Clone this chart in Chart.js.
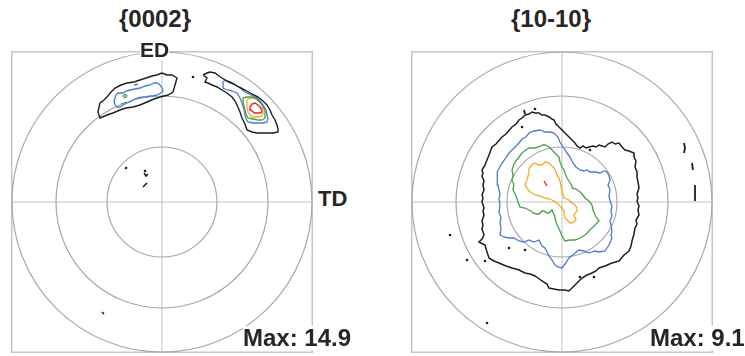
<!DOCTYPE html>
<html>
<head>
<meta charset="utf-8">
<script src="https://cdn.jsdelivr.net/npm/chart.js@4.4.1/dist/chart.umd.min.js"></script>
<style>
  body { margin: 0; background: #fff; width: 745px; height: 356px; position: relative; overflow: hidden;
         font-family: "Liberation Sans", Arial, sans-serif; }
  canvas { position: absolute; top: 51px; }
  .lbl { position: absolute; font-weight: bold; color: #262626; line-height: 1; white-space: nowrap; }
  .bg { background: #fff; }
</style>
</head>
<body>
<canvas id="fig0002" width="302" height="302" style="left:11px"></canvas>
<canvas id="fig1010" width="302" height="302" style="left:411px"></canvas>

<div class="lbl" style="left:95px;width:120px;text-align:center;top:7px;font-size:24px">{0002}</div>
<div class="lbl" style="left:491px;width:120px;text-align:center;top:7px;font-size:24px">{10-10}</div>
<div class="lbl bg" style="left:140px;top:39px;font-size:21px">ED</div>
<div class="lbl bg" style="left:318px;top:188px;font-size:22px">TD</div>
<div class="lbl bg" style="left:243px;top:326px;font-size:24px">Max: 14.9</div>
<div class="lbl bg" style="left:650px;top:326px;font-size:24px">Max: 9.1</div>

<script>
// ============================================
// データ（投影座標：外周円の半径 = 150、y は上向き）
// ============================================
const axisRange = [-151, 151];
const gridRadii = [55, 106, 150]; // 30°・60°・90° の等面積投影リング

// ---- {0002} ----
const c0002BlackA = [[0,129],[5,127],[10,127],[15,124],[13,117],[11,110],[6,107],[-2,105],[-8,103],[-15,100],[-22,97],
  [-29,95],[-36,94],[-42,92],[-49,89],[-55,87],[-62,84],[-64,90],[-63,95],[-62,99],[-58,102],[-55,105],[-51,110],
  [-47,114],[-41,117],[-35,119],[-28,120],[-22,122],[-16,124],[-10,126],[-5,127],[0,129]];
const c0002BlueA = [[-39,109],[-36,111],[-32,112],[-27,113],[-22,114],[-17,116],[-12,117],[-8,119],[-5,119],[-2,117],
  [0,114],[1,111],[0,110],[-3,108],[-5,107],[-9,106],[-12,106],[-16,105],[-19,105],[-24,104],[-29,102],[-32,100],
  [-35,99],[-39,97],[-42,95],[-45,95],[-47,97],[-48,101],[-47,104],[-46,107],[-44,109],[-41,109],[-39,109]];
const c0002GreenA = [[-37,104],[-35,106],[-37,108],[-39,106],[-37,104]];
const c0002GreenDash = [[-41,98],[-38,99],[-36,100]];
const c0002BlueDash = [[-28,117],[-24,118]];
const c0002BlackB = [[41,127],[45,129],[48,130],[53,129],[57,126],[60,124],[65,121],[70,119],[77,115],[83,112],
  [90,108],[96,105],[101,101],[105,97],[108,92],[110,87],[113,82],[115,77],[116,73],[116,70],[111,69],[106,69],
  [100,69],[95,69],[90,70],[85,72],[83,78],[80,84],[78,90],[75,97],[73,101],[70,105],[65,109],[60,112],[55,115],
  [50,117],[46,119],[43,120],[44,122],[45,124],[41,127]];
const c0002BlueB = [[61,120],[63,122],[68,119],[73,117],[78,114],[83,110],[89,107],[95,104],[98,101],[101,97],
  [104,92],[105,87],[106,83],[105,80],[101,79],[96,79],[91,79],[86,80],[84,83],[83,87],[82,93],[80,99],[78,104],
  [75,109],[70,111],[66,112],[63,113],[61,114],[61,117],[61,120]];
const c0002GreenB = [[81,104],[85,105],[90,105],[94,103],[98,100],[101,96],[103,92],[103,88],[103,84],[100,82],
  [96,82],[91,83],[86,84],[84,88],[83,92],[82,96],[81,100],[81,104]];
const c0002OrangeB = [[85,102],[89,104],[93,104],[97,101],[100,97],[101,93],[101,89],[100,86],[98,85],[94,85],
  [90,85],[88,87],[86,90],[85,94],[85,97],[85,102]];
const c0002RedB = [[88,95],[90,98],[93,99],[96,97],[98,95],[100,92],[100,90],[98,89],[96,89],[93,89],[91,90],[89,92],[88,95]];
const c0002Dots = [[31,125],[-36,34],[-17,31]];
const c0002Dashes = [[[-19,15],[-15,19]], [[-18,29],[-16,26],[-14,28]], [[-60,-110],[-58,-112]]];

// ---- {10-10} ----
const c1010Black = [[-37,87],[-33,88],[-30,90],[-27,89],[-23,89],[-20,87],[-17,87],[-13,85],[-10,83],[-8,82],[-6,78],
  [-3,75],[0,72],[3,69],[6,66],[10,62],[13,59],[15,56],[18,54],[21,56],[24,54],[27,55],[31,56],[34,55],[37,57],
  [40,56],[43,55],[46,58],[50,60],[53,58],[57,59],[60,55],[63,52],[67,51],[72,49],[72,45],[74,41],[73,35],[75,30],
  [75,25],[76,20],[77,14],[75,8],[76,4],[75,1],[77,-4],[76,-8],[77,-13],[74,-18],[75,-22],[73,-26],[72,-32],[70,-39],
  [69,-44],[67,-49],[62,-53],[57,-59],[50,-61],[43,-64],[37,-66],[34,-69],[30,-71],[25,-73],[20,-76],[17,-79],
  [13,-83],[10,-86],[7,-89],[3,-88],[-3,-88],[-8,-87],[-13,-86],[-15,-82],[-20,-79],[-24,-76],[-27,-74],[-32,-72],
  [-37,-71],[-43,-68],[-50,-66],[-56,-64],[-63,-61],[-68,-59],[-73,-56],[-75,-50],[-77,-43],[-83,-40],[-80,-37],
  [-78,-33],[-80,-27],[-79,-23],[-80,-19],[-78,-13],[-79,-9],[-78,-6],[-80,0],[-79,4],[-80,7],[-78,12],[-79,17],
  [-78,21],[-80,26],[-79,29],[-80,32],[-77,37],[-75,42],[-73,47],[-70,55],[-66,58],[-60,65],[-56,68],[-50,75],
  [-46,78],[-43,82],[-40,84],[-37,87]];
const c1010Blue = [[-65,30],[-62,35],[-60,39],[-57,43],[-53,49],[-50,52],[-47,55],[-43,59],[-40,63],[-36,65],[-33,69],
  [-28,71],[-22,72],[-17,70],[-12,70],[-8,69],[-4,65],[-2,60],[1,55],[5,49],[8,45],[11,39],[14,35],[18,32],[22,31],
  [25,32],[28,30],[33,30],[38,29],[42,31],[45,30],[47,26],[48,22],[46,17],[48,12],[47,6],[48,1],[50,-4],[49,-9],
  [50,-14],[48,-19],[49,-23],[50,-29],[49,-33],[50,-36],[47,-43],[43,-49],[37,-50],[33,-49],[27,-51],[22,-49],
  [17,-48],[12,-52],[7,-56],[3,-62],[0,-66],[-4,-65],[-7,-63],[-10,-58],[-13,-54],[-15,-50],[-17,-46],[-20,-44],
  [-23,-38],[-28,-40],[-33,-38],[-38,-40],[-43,-39],[-48,-36],[-53,-36],[-58,-35],[-62,-33],[-61,-27],[-62,-21],
  [-61,-16],[-63,-10],[-62,-3],[-63,3],[-62,8],[-63,12],[-64,17],[-65,21],[-64,26],[-65,30]];
const c1010Green = [[-50,32],[-48,38],[-46,41],[-43,45],[-40,49],[-36,52],[-33,54],[-28,54],[-23,55],[-19,57],[-17,57],
  [-13,55],[-10,52],[-7,49],[-3,45],[-2,40],[0,35],[2,32],[3,29],[5,24],[7,21],[10,16],[10,14],[14,13],[17,11],
  [20,8],[23,4],[27,1],[30,-3],[31,-8],[33,-13],[35,-16],[37,-19],[34,-22],[30,-26],[27,-29],[23,-33],[18,-36],
  [13,-38],[8,-38],[3,-39],[0,-34],[-2,-29],[-4,-25],[-6,-20],[-7,-15],[-10,-8],[-13,-11],[-15,-11],[-18,-9],[-20,-9],
  [-23,-12],[-25,-12],[-29,-11],[-31,-9],[-33,-8],[-37,-6],[-42,-5],[-44,0],[-46,6],[-49,12],[-48,18],[-50,21],
  [-49,27],[-50,32]];
const c1010Orange = [[-33,29],[-33,33],[-32,35],[-29,38],[-27,39],[-24,37],[-20,37],[-17,40],[-13,39],[-10,36],[-8,34],
  [-6,30],[-5,27],[-3,24],[-2,21],[-1,16],[0,11],[1,7],[2,4],[5,3],[7,2],[10,-1],[13,-3],[15,-6],[15,-9],[13,-11],
  [12,-14],[14,-17],[13,-19],[10,-21],[8,-21],[5,-18],[3,-16],[2,-12],[2,-9],[0,-6],[-3,-3],[-5,-1],[-8,1],[-12,3],
  [-17,4],[-22,6],[-27,7],[-30,9],[-33,11],[-35,14],[-37,17],[-36,20],[-35,22],[-34,26],[-33,29]];
const c1010RedDash = [[-18,21],[-15,16]];
const c1010Dots = [[-27,93],[-112,-33],[-95,-58],[-77,-59],[18,-75],[32,-75],[-53,-46],[-37,-48],[-75,-121],[28,52],[-40,75]];
const c1010Dashes = [[[-37,88],[-38,92]], [[122,59],[123,54],[122,49]], [[130,39],[131,32]], [[133,17],[133,9],[133,1]]];

// ============================================
// 色
// ============================================
const colBlack = "#1e1e1e";
const colBlue = "#4a7cc9";
const colGreen = "#45a245";
const colOrange = "#f3a928";
const colRed = "#e02828";

// ============================================
// 枠・十字線・リングを描くプラグイン
// ============================================
const poleGridPlugin = {
  id: "poleGrid",
  beforeDatasetsDraw(chart) {
    const { ctx, chartArea, scales } = chart;
    const cx = scales.x.getPixelForValue(0);
    const cy = scales.y.getPixelForValue(0);
    ctx.save();
    // 外枠
    ctx.strokeStyle = "#c6c6c6";
    ctx.lineWidth = 1.5;
    ctx.strokeRect(chartArea.left + 0.75, chartArea.top + 0.75,
      chartArea.right - chartArea.left - 1.5, chartArea.bottom - chartArea.top - 1.5);
    // 十字線
    ctx.strokeStyle = "#c2c2c2";
    ctx.lineWidth = 1;
    ctx.beginPath();
    ctx.moveTo(chartArea.left, cy); ctx.lineTo(chartArea.right, cy);
    ctx.moveTo(cx, chartArea.top); ctx.lineTo(cx, chartArea.bottom);
    ctx.stroke();
    // リング
    ctx.strokeStyle = "#a8a8a8";
    ctx.lineWidth = 1.2;
    gridRadii.forEach((r) => {
      const rp = scales.x.getPixelForValue(r) - cx;
      ctx.beginPath();
      ctx.arc(cx, cy, rp, 0, Math.PI * 2);
      ctx.stroke();
    });
    ctx.restore();
  },
};

// [x, y] 配列を Chart.js のポイントに変換
function toPoints(arr) {
  return arr.map(([x, y]) => ({ x: x, y: y }));
}

function lineSet(arr, color, width) {
  return { data: toPoints(arr), showLine: true, borderColor: color, borderWidth: width,
           pointRadius: 0, fill: false, tension: 0 };
}

function dotSet(arr) {
  return { data: toPoints(arr), showLine: false, pointRadius: 1.3,
           backgroundColor: colBlack, borderWidth: 0 };
}

// ============================================
// 極点図の描画
// ============================================
function drawPoleFigure(id, datasets) {
  new Chart(document.getElementById(id), {
    type: "scatter",
    data: { datasets: datasets },
    options: {
      responsive: false,
      animation: false,
      layout: { padding: 0, autoPadding: false },
      plugins: { legend: { display: false }, tooltip: { enabled: false } },
      events: [],
      scales: {
        x: { type: "linear", min: axisRange[0], max: axisRange[1], display: false },
        y: { type: "linear", min: axisRange[0], max: axisRange[1], display: false },
      },
    },
    plugins: [poleGridPlugin],
  });
}

drawPoleFigure("fig0002", [
  lineSet(c0002BlackA, colBlack, 1.4),
  lineSet(c0002BlueA, colBlue, 1.3),
  lineSet(c0002GreenA, colGreen, 1.2),
  lineSet(c0002GreenDash, colGreen, 1.2),
  lineSet(c0002BlueDash, colBlue, 1.5),
  lineSet(c0002BlackB, colBlack, 1.4),
  lineSet(c0002BlueB, colBlue, 1.3),
  lineSet(c0002GreenB, colGreen, 1.3),
  lineSet(c0002OrangeB, colOrange, 1.3),
  lineSet(c0002RedB, colRed, 1.4),
  ...c0002Dashes.map((d) => lineSet(d, colBlack, 1.6)),
  dotSet(c0002Dots),
]);

drawPoleFigure("fig1010", [
  lineSet(c1010Black, colBlack, 1.5),
  lineSet(c1010Blue, colBlue, 1.3),
  lineSet(c1010Green, colGreen, 1.3),
  lineSet(c1010Orange, colOrange, 1.3),
  lineSet(c1010RedDash, colRed, 1.4),
  ...c1010Dashes.map((d) => lineSet(d, colBlack, 1.8)),
  dotSet(c1010Dots),
]);
</script>
</body>
</html>
